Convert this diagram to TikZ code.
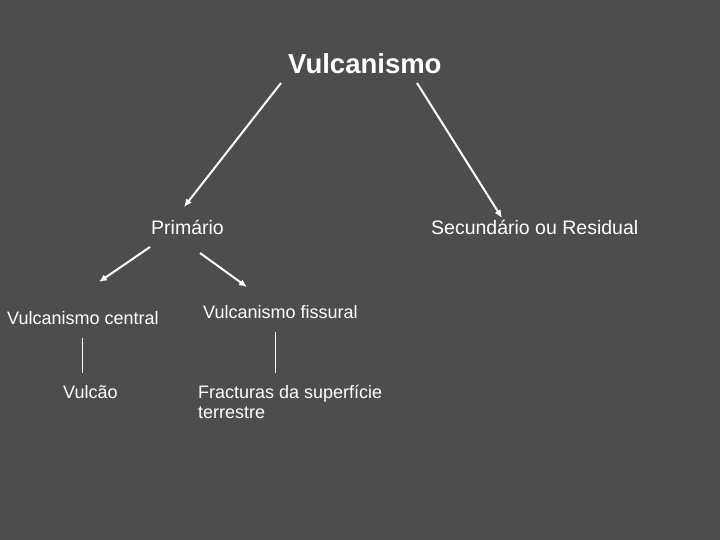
\documentclass[tikz,border=0pt]{standalone}
\usepackage{fontspec}
\setmainfont{Liberation Sans}
\usetikzlibrary{arrows.meta,calc}
\definecolor{bg}{HTML}{4D4D4D}
\begin{document}
\begin{tikzpicture}[x=1pt,y=-1pt,
  lbl/.style={text=white,inner sep=0pt,anchor=base west,font=\fontsize{18}{20}\selectfont},
  mid/.style={lbl,font=\fontsize{19.5}{23}\selectfont},
  arr/.style={draw=white,line width=2pt,-{Latex[length=8pt,width=7pt]}},
  ln/.style={draw=white,line width=1pt}]
\fill[bg] (0,0) rectangle (720,540);
\useasboundingbox (0,0) rectangle (720,540);
\node[lbl,font=\bfseries\fontsize{27.5}{32}\selectfont] (v) at (288,74) {Vulcanismo};
\node[mid] (p) at (151,235) {Primário};
\node[mid] (s) at (431,235) {Secundário ou Residual};
\node[lbl] (c) at (7,324) {Vulcanismo central};
\node[lbl] (f) at (203,318) {Vulcanismo fissural};
\node[lbl] (vu) at (63,398) {Vulcão};
\node[lbl,anchor=north west,align=left] (fr) at (198,385) {Fracturas da superfície\\terrestre};
\draw[arr] ($(v.base west)+(-7,9)$) -- ($(p.base west)+(33,-28)$);
\draw[arr] ($(v.base west)+(129,9)$) -- ($(s.base west)+(71,-17)$);
\draw[arr] ($(p.base west)+(-1,12)$) -- ($(c.base west)+(92,-42)$);
\draw[arr] ($(p.base west)+(49,18)$) -- ($(f.base west)+(44,-31)$);
\draw[ln] ($(c.base west)+(75,14)$) -- ($(vu.base west)+(19,-25)$);
\draw[ln] ($(f.base west)+(72,14)$) -- ($(fr.north west)+(77,-12)$);
\end{tikzpicture}
\end{document}
